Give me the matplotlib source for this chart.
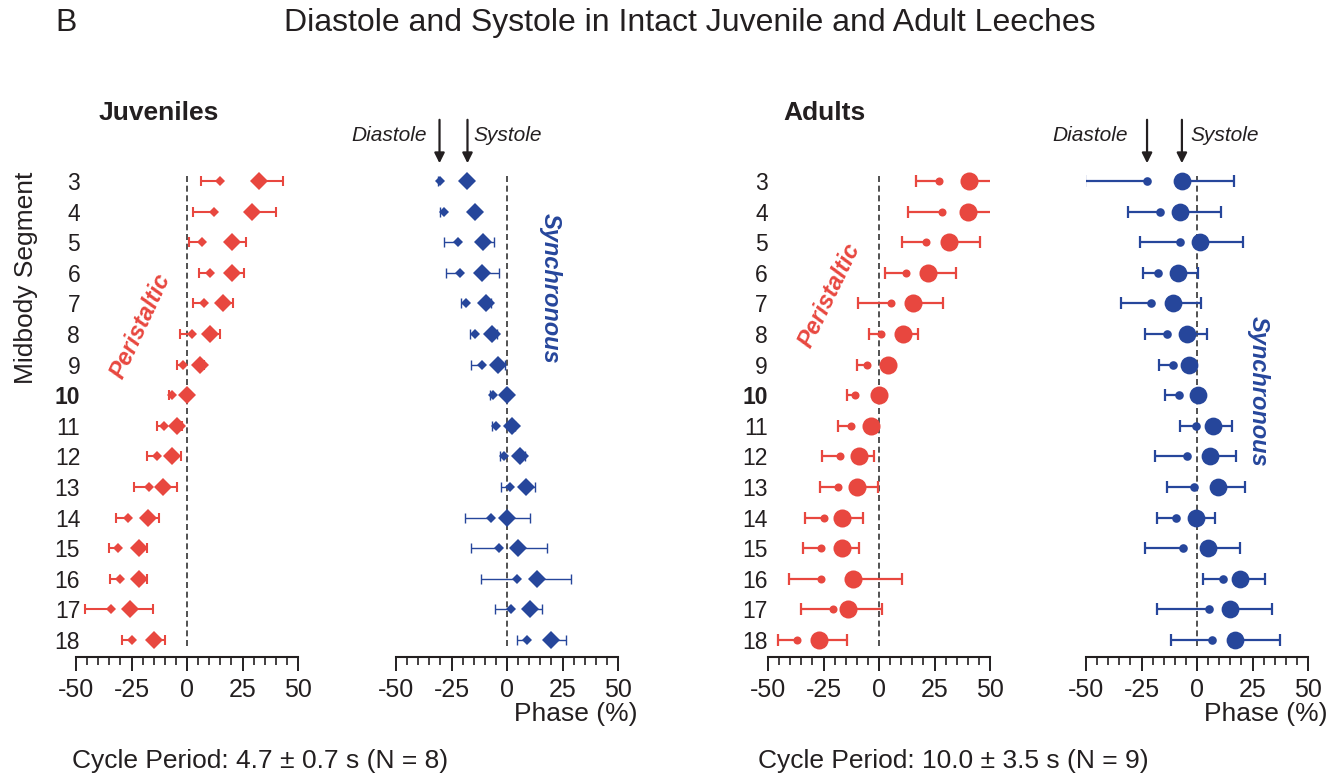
import numpy as np
import matplotlib
matplotlib.use("Agg")
import matplotlib.pyplot as plt
from matplotlib.ticker import MultipleLocator

plt.rcParams['font.family'] = ['Liberation Sans', 'DejaVu Sans']

W, H = 1343, 781

segments = list(range(3, 19))
seg_labels = [str(s) for s in segments]
phase_ticks = [-50, -25, 0, 25, 50]
phase_labels = ['-50', '-25', '0', '25', '50']

# phase (%) of each segment; the SD bar is drawn one-sided
# (diastole to the left, systole to the right)
juv_peri_dia = [14.8, 12.0, 6.8, 10.3, 7.6, 2.2, -1.6, -6.6, -10.3, -13.3, -17.3, -26.5, -31.0, -30.1, -34.3, -24.8]
juv_peri_dia_sd = [8.6, 9.1, 5.7, 5.0, 4.7, 5.3, 2.7, 1.5, 3.0, 4.8, 6.5, 5.4, 4.0, 4.6, 11.6, 4.4]
juv_peri_sys = [32.6, 29.1, 20.4, 20.2, 16.2, 10.3, 5.8, 0.0, -4.3, -6.9, -10.8, -17.5, -21.4, -21.4, -25.6, -15.0]
juv_peri_sys_sd = [10.7, 11.2, 6.4, 5.6, 4.6, 4.4, 2.0, 1.5, 2.0, 4.4, 6.5, 4.8, 3.6, 3.3, 10.5, 5.1]

juv_sync_dia = [-30.4, -28.4, -21.9, -21.0, -18.5, -14.2, -11.4, -6.4, -5.1, -1.2, 1.4, -7.3, -3.6, 4.5, 1.7, 9.0]
juv_sync_dia_sd = [0.5, 1.9, 6.5, 6.3, 2.0, 2.3, 4.8, 1.1, 1.5, 2.1, 4.2, 11.4, 12.4, 16.2, 6.9, 4.3]
juv_sync_sys = [-17.8, -14.4, -10.8, -11.1, -9.3, -6.7, -4.0, 0.0, 2.1, 5.9, 8.4, 0.0, 5.0, 13.5, 10.4, 19.7]
juv_sync_sys_sd = [0.5, 1.0, 4.8, 7.4, 2.0, 2.0, 3.3, 1.0, 1.5, 2.0, 4.1, 10.2, 12.9, 15.2, 5.2, 7.1]

ad_peri_dia = [27.2, 28.6, 21.3, 12.0, 5.4, 1.0, -5.3, -10.8, -12.8, -17.7, -18.6, -24.8, -26.0, -26.0, -20.9, -36.8]
ad_peri_dia_sd = [10.7, 15.7, 11.0, 9.5, 15.0, 5.5, 4.8, 3.6, 5.7, 7.8, 8.0, 8.5, 8.4, 14.5, 14.4, 8.7]
ad_peri_sys = [40.5, 39.9, 31.5, 22.2, 15.5, 11.0, 4.2, 0.0, -3.8, -9.0, -9.8, -16.8, -16.8, -11.9, -14.0, -26.9]
ad_peri_sys_sd = [13.8, 14.4, 14.1, 12.6, 13.3, 6.4, 2.0, 1.0, 3.0, 6.9, 9.2, 9.4, 7.6, 22.4, 15.5, 12.5]

ad_sync_dia = [-22.5, -16.5, -7.5, -17.6, -20.7, -13.5, -10.7, -8.0, -0.6, -4.5, -1.4, -9.6, -6.5, 11.6, 5.6, 6.6]
ad_sync_dia_sd = [27.8, 14.7, 18.0, 6.9, 13.5, 9.9, 6.6, 6.3, 6.9, 14.6, 12.0, 8.4, 16.8, 8.9, 23.6, 18.2]
ad_sync_sys = [-6.8, -7.8, 1.2, -8.7, -10.8, -4.5, -3.6, 0.3, 7.1, 6.0, 9.5, -0.3, 5.1, 19.5, 15.0, 17.3]
ad_sync_sys_sd = [23.3, 18.6, 19.4, 9.0, 12.4, 9.2, 2.0, 1.0, 8.7, 11.6, 12.3, 8.4, 14.1, 11.1, 18.6, 20.2]

RED = '#E8473F'
BLUE = '#26469B'
INK = '#231F20'


def fx(x):
    return x / W


def fy(y):
    return 1 - y / H


def draw_panel(ax, dia, dia_sd, sys, sys_sd, color, marker, big, small, lw, cap):
    dia = np.array(dia)
    sys = np.array(sys)
    dia_lo = dia - np.array(dia_sd)
    sys_hi = sys + np.array(sys_sd)
    ax.vlines(0, 2.85, 18.25, colors='#333333', linestyles=(0, (3.6, 2.2)), lw=1.2, zorder=1)
    ax.hlines(segments, dia_lo, dia, colors=color, lw=lw, zorder=2)
    ax.hlines(segments, sys, sys_hi, colors=color, lw=lw, zorder=2)
    ax.plot(dia_lo, segments, ls='none', marker='|', ms=cap, mew=lw, color=color, zorder=2)
    ax.plot(sys_hi, segments, ls='none', marker='|', ms=cap, mew=lw, color=color, zorder=2)
    ax.plot(dia, segments, ls='none', marker=marker, ms=small, mew=0, color=color, zorder=3)
    ax.plot(sys, segments, ls='none', marker=marker, ms=big, mew=0, color=color, zorder=3)

    ax.set_xlim(-50, 50)
    ax.set_ylim(18.556, 2.477)
    for s in ['left', 'top', 'right']:
        ax.spines[s].set_visible(False)
    ax.spines['bottom'].set_linewidth(1.5)
    ax.spines['bottom'].set_color(INK)
    ax.set_xticks(phase_ticks)
    ax.set_xticklabels(phase_labels)
    ax.xaxis.set_minor_locator(MultipleLocator(5))
    ax.tick_params(axis='x', which='major', length=10, width=1.4, color=INK, labelsize=18, pad=5, labelcolor=INK)
    ax.tick_params(axis='x', which='minor', length=5.5, width=1.2, color=INK)
    ax.set_yticks(segments)
    ax.patch.set_alpha(0)


fig = plt.figure(figsize=(W / 100, H / 100), dpi=100)

lefts = [76, 396, 768, 1086]
axes = [fig.add_axes([fx(l), fy(657), 222 / W, (657 - 165) / H]) for l in lefts]
ax1, ax2, ax3, ax4 = axes

draw_panel(ax1, juv_peri_dia, juv_peri_dia_sd, juv_peri_sys, juv_peri_sys_sd, RED, 'D', 9.2, 4.6, 1.5, 7)
draw_panel(ax2, juv_sync_dia, juv_sync_dia_sd, juv_sync_sys, juv_sync_sys_sd, BLUE, 'D', 8.8, 4.6, 1.0, 7)
draw_panel(ax3, ad_peri_dia, ad_peri_dia_sd, ad_peri_sys, ad_peri_sys_sd, RED, 'o', 13, 5.8, 1.6, 8)
draw_panel(ax4, ad_sync_dia, ad_sync_dia_sd, ad_sync_sys, ad_sync_sys_sd, BLUE, 'o', 12.8, 6.2, 1.6, 8)

# segment labels only on the left panel of each pair
for ax, pad in [(ax1, -3), (ax3, 0)]:
    ax.set_yticklabels(seg_labels)
    ax.tick_params(axis='y', length=0, pad=pad, labelsize=16.5, labelcolor=INK)
    for lab in ax.get_yticklabels():
        if lab.get_text() == '10':
            lab.set_fontweight('bold')
for ax in [ax2, ax4]:
    ax.tick_params(axis='y', length=0, labelleft=False)

# diastole / systole arrows point at segment 3
arrow_kw = dict(arrowstyle='-|>', lw=1.6, color=INK, mutation_scale=15, shrinkA=0, shrinkB=0)
for ax, dia, sys, gap_d, gap_s in [(ax2, juv_sync_dia, juv_sync_sys, 9, 4.5),
                                   (ax4, ad_sync_dia, ad_sync_sys, 14, 6)]:
    for x in (dia[0], sys[0]):
        ax.annotate('', xy=(x, 2.42), xytext=(x, 1.0), arrowprops=arrow_kw, annotation_clip=False)
    ax.annotate('Diastole', xy=(dia[0], 1.5), xytext=(-gap_d, 0), textcoords='offset points',
                ha='right', va='center', fontsize=15, style='italic', color=INK, annotation_clip=False)
    ax.annotate('Systole', xy=(sys[0], 1.5), xytext=(gap_s, 0), textcoords='offset points',
                ha='left', va='center', fontsize=15, style='italic', color=INK, annotation_clip=False)

# labels inside the panels
fig.text(fx(141), fy(326), 'Peristaltic', rotation=65, rotation_mode='anchor', ha='center', va='center',
         fontsize=17, fontweight='bold', style='italic', color=RED)
fig.text(fx(830), fy(295), 'Peristaltic', rotation=64, rotation_mode='anchor', ha='center', va='center',
         fontsize=17, fontweight='bold', style='italic', color=RED)
fig.text(fx(550), fy(288), 'Synchronous', rotation=-90, rotation_mode='anchor', ha='center', va='center',
         fontsize=17, fontweight='bold', style='italic', color=BLUE)
fig.text(fx(1258), fy(391), 'Synchronous', rotation=-90, rotation_mode='anchor', ha='center', va='center',
         fontsize=17, fontweight='bold', style='italic', color=BLUE)

fig.text(fx(55), fy(23), 'B', fontsize=23, ha='left', va='center', color=INK)
fig.text(fx(690), fy(23), 'Diastole and Systole in Intact Juvenile and Adult Leeches', fontsize=23,
         ha='center', va='center', color=INK)
fig.text(fx(99), fy(113), 'Juveniles', fontsize=19, fontweight='bold', ha='left', va='center', color=INK)
fig.text(fx(783), fy(113), 'Adults', fontsize=19, fontweight='bold', ha='left', va='center', color=INK)
fig.text(fx(26), fy(278), 'Midbody Segment', rotation=90, fontsize=19, ha='center', va='center', color=INK)

fig.text(fx(638), fy(714), 'Phase (%)', fontsize=19, ha='right', va='center', color=INK)
fig.text(fx(1328), fy(714), 'Phase (%)', fontsize=19, ha='right', va='center', color=INK)

fig.text(fx(72), fy(761), 'Cycle Period: 4.7 \u00b1 0.7 s (N = 8)', fontsize=19, ha='left', va='center', color=INK)
fig.text(fx(758), fy(761), 'Cycle Period: 10.0 \u00b1 3.5 s (N = 9)', fontsize=19, ha='left', va='center', color=INK)

fig.savefig('out.png', dpi=100)
